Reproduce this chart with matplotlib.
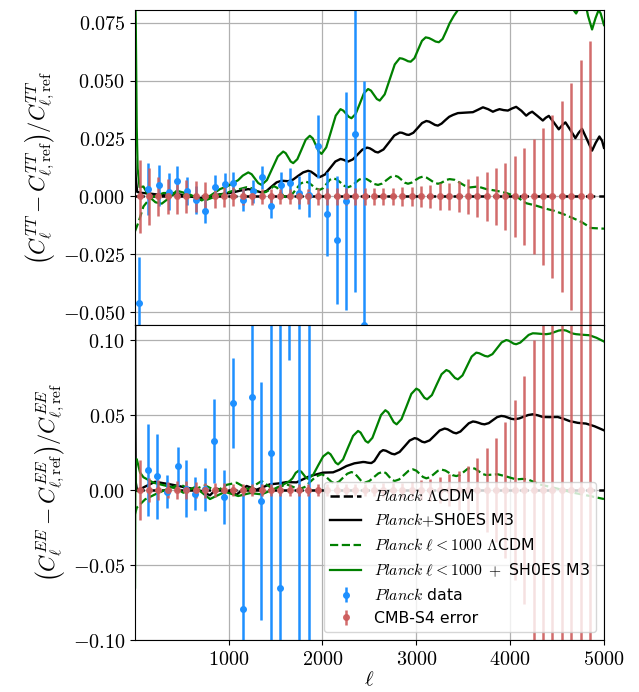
import numpy as np
import matplotlib
matplotlib.use("Agg")
import matplotlib.pyplot as plt
from matplotlib.ticker import FuncFormatter

plt.rcParams['mathtext.fontset'] = 'cm'
plt.rcParams['font.family'] = ['DejaVu Sans']

# ---- TT residual curves ----
tt_m3_ell = [2, 10, 25, 60, 150, 250, 340, 447, 560, 680, 760, 833, 900, 979, 1050, 1120,
             1209, 1280, 1351, 1404, 1458, 1511, 1564, 1634, 1687, 1740, 1794, 1847, 1878,
             1910, 1941, 1972, 2027, 2082, 2137, 2192, 2212, 2233, 2253, 2273, 2323, 2374,
             2424, 2475, 2504, 2534, 2563, 2592, 2650, 2708, 2765, 2823, 2848, 2873, 2897,
             2922, 2968, 3015, 3061, 3107, 3138, 3169, 3199, 3230, 3270, 3310, 3350, 3390,
             3443, 3520, 3603, 3660, 3710, 3765, 3816, 3850, 3887, 3930, 3976, 4020, 4064,
             4120, 4171, 4205, 4235, 4290, 4348, 4380, 4412, 4465, 4518, 4555, 4589, 4642,
             4695, 4730, 4766, 4820, 4873, 4912, 4951, 4980, 5000]
tt_m3 = [0.016, 0.008, 0.002, 0.0016, 0.0013, 0.0008, 0.0004, 0.0011, 0.0003, -0.0007,
         -0.0007, 0.0004, 0.0009, 0.0013, 0.0018, 0.0025, 0.0032, 0.0026, 0.0017, 0.0024,
         0.0043, 0.0061, 0.0068, 0.0066, 0.0073, 0.0089, 0.0104, 0.0111, 0.0107, 0.0098,
         0.0088, 0.0084, 0.0095, 0.0123, 0.0151, 0.0162, 0.0160, 0.0157, 0.0153, 0.0151,
         0.0160, 0.0181, 0.0202, 0.0211, 0.0208, 0.0201, 0.0193, 0.0190, 0.0203, 0.0233,
         0.0263, 0.0276, 0.0275, 0.0271, 0.0267, 0.0266, 0.0275, 0.0296, 0.0317, 0.0326,
         0.0323, 0.0316, 0.0309, 0.0306, 0.0315, 0.0330, 0.0344, 0.0352, 0.0360, 0.0362,
         0.0364, 0.0375, 0.0385, 0.0377, 0.0366, 0.0372, 0.0377, 0.0373, 0.0371, 0.0380,
         0.0387, 0.0370, 0.0349, 0.0360, 0.0366, 0.0348, 0.0328, 0.0340, 0.0348, 0.0320,
         0.0290, 0.0308, 0.0320, 0.0287, 0.0252, 0.0275, 0.0292, 0.0245, 0.0198, 0.0232,
         0.0259, 0.0240, 0.0210]

tt_lowl_m3_ell = [2, 10, 20, 30, 50, 92, 150, 220, 287, 370, 447, 580, 713, 810, 908, 979,
                  1100, 1150, 1209, 1245, 1280, 1315, 1351, 1408, 1466, 1524, 1581, 1608,
                  1635, 1661, 1688, 1732, 1777, 1821, 1865, 1896, 1928, 1959, 1990, 2040,
                  2091, 2141, 2192, 2221, 2250, 2280, 2309, 2353, 2398, 2442, 2486, 2517,
                  2548, 2579, 2610, 2663, 2717, 2770, 2823, 2852, 2882, 2911, 2940, 2980,
                  3020, 3060, 3100, 3135, 3170, 3205, 3240, 3280, 3320, 3355, 3400, 3443,
                  3550, 3700, 3900, 4100, 4300, 4500, 4667, 4703, 4790, 4830, 4873, 4910,
                  4943, 4965, 5000]
tt_lowl_m3 = [0.095, 0.075, 0.030, 0.012, 0.004, 0.0043, 0.0000, -0.0025, -0.0031, -0.0005,
              0.0025, 0.0010, -0.0017, 0.0005, 0.0032, 0.0043, 0.0070, 0.0090, 0.0104,
              0.0096, 0.0077, 0.0058, 0.0050, 0.0071, 0.0122, 0.0173, 0.0194, 0.0187,
              0.0169, 0.0151, 0.0144, 0.0161, 0.0203, 0.0245, 0.0262, 0.0251, 0.0223,
              0.0195, 0.0184, 0.0212, 0.0281, 0.0349, 0.0377, 0.0371, 0.0358, 0.0344,
              0.0338, 0.0356, 0.0401, 0.0446, 0.0464, 0.0457, 0.0439, 0.0421, 0.0414,
              0.0441, 0.0506, 0.0570, 0.0597, 0.0595, 0.0590, 0.0584, 0.0582, 0.0597,
              0.0635, 0.0672, 0.0687, 0.0684, 0.0677, 0.0669, 0.0666, 0.0680, 0.0715,
              0.0748, 0.0780, 0.0805, 0.086, 0.090, 0.094, 0.096, 0.093, 0.088, 0.081,
              0.079, 0.086, 0.078, 0.0721, 0.0770, 0.0805, 0.0790, 0.0740]

tt_lowl_lcdm_ell = [2, 40, 92, 163, 305, 447, 540, 623, 748, 908, 1050, 1191, 1240, 1275,
                    1320, 1360, 1400, 1440, 1480, 1515, 1550, 1585, 1620, 1668, 1716, 1764,
                    1812, 1852, 1892, 1932, 1972, 2007, 2042, 2078, 2113, 2153, 2193, 2233,
                    2273, 2313, 2353, 2392, 2432, 2472, 2512, 2552, 2592, 2636, 2680, 2725,
                    2769, 2805, 2840, 2876, 2911, 2951, 2991, 3031, 3071, 3111, 3150, 3190,
                    3230, 3261, 3292, 3324, 3355, 3408, 3461, 3515, 3568, 3656, 3745, 3850,
                    3958, 4064, 4171, 4280, 4384, 4470, 4561, 4667, 4760, 4862, 5000]
tt_lowl_lcdm = [-0.0150, -0.0110, -0.0043, -0.0007, 0.0015, 0.0015, 0.0005, -0.0007,
                -0.0017, 0.0007, 0.0025, 0.0040, 0.0036, 0.0028, 0.0019, 0.0015, 0.0020,
                0.0030, 0.0045, 0.0038, 0.0020, 0.0002, -0.0005, 0.0005, 0.0030, 0.0055,
                0.0065, 0.0060, 0.0047, 0.0034, 0.0029, 0.0036, 0.0054, 0.0072, 0.0079,
                0.0073, 0.0060, 0.0046, 0.0040, 0.0046, 0.0060, 0.0073, 0.0079, 0.0075,
                0.0065, 0.0054, 0.0050, 0.0056, 0.0070, 0.0084, 0.0090, 0.0085, 0.0073,
                0.0060, 0.0055, 0.0060, 0.0071, 0.0081, 0.0086, 0.0081, 0.0071, 0.0060,
                0.0055, 0.0058, 0.0065, 0.0072, 0.0075, 0.0072, 0.0060, 0.0047, 0.0039,
                0.0043, 0.0032, 0.0025, 0.0015, 0.0000, -0.0029, -0.0040, -0.0053, -0.0062,
                -0.0075, -0.0093, -0.0110, -0.0136, -0.0139]

# ---- EE residual curves ----
ee_m3_ell = [2, 5, 10, 25, 100, 216, 376, 553, 680, 801, 872, 979, 1085, 1191, 1297, 1440,
             1546, 1617, 1723, 1865, 2007, 2113, 2180, 2256, 2340, 2432, 2455, 2477, 2499,
             2521, 2552, 2583, 2614, 2645, 2676, 2707, 2738, 2769, 2822, 2876, 2929, 2982,
             3009, 3036, 3062, 3089, 3142, 3196, 3249, 3302, 3333, 3364, 3395, 3426, 3470,
             3515, 3559, 3603, 3634, 3665, 3696, 3727, 3772, 3816, 3861, 3905, 3940, 3976,
             4011, 4046, 4095, 4144, 4192, 4241, 4295, 4348, 4420, 4507, 4570, 4632, 4720,
             4809, 4900, 5000]
ee_m3 = [0.20, 0.06, 0.005, -0.0007, 0.0020, 0.0055, 0.0038, 0.0016, 0.0000, -0.0035,
         0.0009, -0.0007, -0.0031, 0.0027, 0.0002, 0.0038, 0.0045, 0.0053, 0.0051, 0.0093,
         0.0116, 0.0118, 0.0135, 0.0160, 0.0178, 0.0187, 0.0186, 0.0183, 0.0181, 0.0180,
         0.0193, 0.0223, 0.0253, 0.0266, 0.0262, 0.0252, 0.0242, 0.0238, 0.0254, 0.0292,
         0.0330, 0.0346, 0.0342, 0.0332, 0.0322, 0.0318, 0.0331, 0.0364, 0.0397, 0.0410,
         0.0405, 0.0394, 0.0383, 0.0378, 0.0390, 0.0418, 0.0445, 0.0457, 0.0454, 0.0448,
         0.0441, 0.0438, 0.0446, 0.0466, 0.0486, 0.0494, 0.0491, 0.0483, 0.0475, 0.0472,
         0.0477, 0.0489, 0.0500, 0.0505, 0.0498, 0.0487, 0.0486, 0.0487, 0.0475, 0.0460,
         0.0448, 0.0443, 0.0425, 0.0398]

ee_lowl_m3_ell = [2, 5, 8, 21, 56, 92, 198, 340, 440, 517, 642, 801, 961, 1102, 1230, 1351,
                  1460, 1564, 1650, 1680, 1715, 1750, 1774, 1798, 1823, 1847, 1900, 1953,
                  2007, 2060, 2086, 2113, 2140, 2166, 2219, 2272, 2326, 2379, 2406, 2432,
                  2459, 2486, 2532, 2578, 2624, 2670, 2700, 2730, 2760, 2790, 2842, 2895,
                  2947, 3000, 3029, 3057, 3086, 3115, 3166, 3217, 3269, 3320, 3351, 3381,
                  3412, 3443, 3492, 3541, 3590, 3639, 3670, 3700, 3731, 3762, 3811, 3860,
                  3909, 3958, 3984, 4011, 4037, 4064, 4108, 4152, 4197, 4241, 4277, 4312,
                  4348, 4384, 4428, 4472, 4517, 4561, 4597, 4632, 4668, 4703, 4774, 4845,
                  4920, 5000]
ee_lowl_m3 = [-0.065, -0.010, 0.020, 0.0205, 0.0116, 0.0085, 0.0049, 0.0027, 0.0010,
              -0.0018, 0.0020, -0.0060, -0.0012, -0.0040, -0.0020, -0.0029, 0.0000, 0.0030,
              0.0060, 0.0078, 0.0115, 0.0130, 0.0122, 0.0103, 0.0083, 0.0075, 0.0101,
              0.0163, 0.0224, 0.0250, 0.0238, 0.0211, 0.0183, 0.0171, 0.0204, 0.0283,
              0.0361, 0.0394, 0.0383, 0.0355, 0.0327, 0.0316, 0.0348, 0.0424, 0.0500,
              0.0532, 0.0518, 0.0485, 0.0452, 0.0438, 0.0473, 0.0557, 0.0641, 0.0676,
              0.0666, 0.0641, 0.0615, 0.0605, 0.0633, 0.0703, 0.0772, 0.0800, 0.0791,
              0.0769, 0.0747, 0.0738, 0.0764, 0.0827, 0.0890, 0.0916, 0.0912, 0.0903,
              0.0894, 0.0890, 0.0906, 0.0945, 0.0984, 0.1000, 0.0996, 0.0986, 0.0976,
              0.0972, 0.0983, 0.1008, 0.1034, 0.1045, 0.1044, 0.1042, 0.1040, 0.1039,
              0.1043, 0.1053, 0.1063, 0.1067, 0.1063, 0.1053, 0.1043, 0.1039, 0.1035,
              0.1032, 0.1015, 0.0990]

ee_lowl_lcdm_ell = [2, 21, 110, 216, 340, 482, 606, 748, 872, 980, 1085, 1210, 1351, 1475,
                    1617, 1750, 1810, 1870, 1930, 1990, 2025, 2060, 2096, 2131, 2176, 2220,
                    2265, 2309, 2344, 2380, 2415, 2450, 2499, 2548, 2596, 2645, 2676, 2707,
                    2738, 2769, 2818, 2866, 2915, 2964, 3000, 3036, 3071, 3107, 3148, 3189,
                    3229, 3270, 3309, 3348, 3387, 3426, 3466, 3506, 3546, 3586, 3626, 3666,
                    3705, 3745, 3868, 3960, 4064, 4130, 4188, 4312, 4500, 4667, 4850, 5000]
ee_lowl_lcdm = [-0.016, -0.0117, -0.0062, -0.0029, 0.0005, 0.0038, -0.0002, 0.0031, -0.0007,
                0.0035, 0.0049, 0.0005, 0.0060, 0.0005, 0.0038, 0.0005, 0.0020, 0.0055,
                0.0090, 0.0105, 0.0096, 0.0075, 0.0054, 0.0045, 0.0056, 0.0083, 0.0109,
                0.0120, 0.0110, 0.0085, 0.0059, 0.0049, 0.0060, 0.0086, 0.0111, 0.0122,
                0.0113, 0.0091, 0.0069, 0.0060, 0.0071, 0.0099, 0.0127, 0.0138, 0.0129,
                0.0108, 0.0087, 0.0078, 0.0086, 0.0107, 0.0128, 0.0136, 0.0130, 0.0115,
                0.0099, 0.0093, 0.0101, 0.0121, 0.0141, 0.0149, 0.0142, 0.0125, 0.0107,
                0.0100, 0.0105, 0.0090, 0.0071, 0.0074, 0.0071, 0.0038, 0.0010, -0.0017,
                -0.0040, -0.0060]

# ---- Planck binned data ----
planck_tt_ell = [46, 145, 262, 369, 450, 556, 655, 751, 858, 961, 1049, 1155, 1255, 1351,
                 1450, 1556, 1652, 1751, 1851, 1947, 2050, 2150, 2248, 2347, 2447]
planck_tt = [-0.046, 0.0033, 0.0049, 0.0020, 0.0065, 0.0024, -0.0014, -0.0063, 0.0043,
             0.0053, 0.0057, -0.0014, 0.0022, 0.0083, -0.0043, 0.0050, 0.0057, 0.0017,
             0.0007, 0.0216, -0.0076, -0.0187, -0.0019, 0.0269, -0.0553]
planck_tt_err = [0.020, 0.0113, 0.0088, 0.0080, 0.0068, 0.0060, 0.0060, 0.0052, 0.0050,
                 0.0050, 0.0047, 0.0050, 0.0050, 0.0050, 0.0050, 0.0055, 0.0065, 0.0072,
                 0.0097, 0.0135, 0.018, 0.0277, 0.047, 0.068, 0.105]

planck_ee_ell = [145, 234, 347, 457, 542, 645, 751, 844, 947, 1049, 1149, 1248, 1347, 1447,
                 1546, 1645, 1751, 1851]
planck_ee = [0.0131, 0.0093, -0.0013, 0.0160, 0.0009, -0.0024, 0.0004, 0.0327, -0.0044,
             0.0582, -0.0790, 0.0618, -0.0073, 0.0249, -0.0651, 0.19, 0.16, -0.18]
planck_ee_err = [0.0307, 0.0283, 0.0110, 0.0130, 0.0190, 0.0110, 0.0145, 0.0278, 0.0180,
                 0.0300, 0.0807, 0.0590, 0.0795, 0.150, 0.200, 0.103, 0.30, 0.30]

# ---- CMB-S4 forecast errors ----
s4_ell = list(range(50, 4851, 100))
s4_tt_err = [0.0158, 0.0122, 0.0085, 0.0077, 0.0074, 0.0070, 0.0068, 0.0061, 0.0050, 0.0045,
             0.0040, 0.0036, 0.0035, 0.0034, 0.0034, 0.0034, 0.0034, 0.0034, 0.0034, 0.0035,
             0.0035, 0.0035, 0.0035, 0.0036, 0.0036, 0.0036, 0.0037, 0.0038, 0.0040, 0.0042,
             0.0045, 0.0050, 0.0057, 0.0060, 0.0066, 0.0077, 0.0090, 0.0104, 0.0122, 0.0145,
             0.0176, 0.0210, 0.0250, 0.0296, 0.0350, 0.0413, 0.0489, 0.0589, 0.0672]
s4_ee_err = [0.020, 0.0083, 0.0067, 0.0053, 0.0060, 0.0058, 0.0055, 0.0050, 0.0047, 0.0044,
             0.0042, 0.0040, 0.0040, 0.0040, 0.0040, 0.0040, 0.0040, 0.0040, 0.0040, 0.0040,
             0.0041, 0.0041, 0.0041, 0.0042, 0.0042, 0.0043, 0.0044, 0.0046, 0.0049, 0.0055,
             0.0064, 0.0075, 0.0087, 0.0105, 0.0130, 0.0160, 0.0216, 0.0280, 0.0344, 0.0456,
             0.0600, 0.0760, 0.0998, 0.130, 0.160, 0.200, 0.250, 0.300, 0.360]

blue = '#1E90FF'
red = '#CD5C5C'
tick_fs = 14.5

fig = plt.figure(figsize=(6.39, 6.92), dpi=100)
gs = fig.add_gridspec(2, 1, left=0.2113, right=0.9452, top=0.9855, bottom=0.0751, hspace=0)
ax1 = fig.add_subplot(gs[0])
ax2 = fig.add_subplot(gs[1], sharex=ax1)

panels = [
    (ax1, tt_m3_ell, tt_m3, tt_lowl_lcdm_ell, tt_lowl_lcdm, tt_lowl_m3_ell, tt_lowl_m3,
     planck_tt_ell, planck_tt, planck_tt_err, s4_tt_err),
    (ax2, ee_m3_ell, ee_m3, ee_lowl_lcdm_ell, ee_lowl_lcdm, ee_lowl_m3_ell, ee_lowl_m3,
     planck_ee_ell, planck_ee, planck_ee_err, s4_ee_err),
]

for ax, m3x, m3y, llx, lly, lmx, lmy, px, py, pe, s4e in panels:
    ax.grid(True, color='#b0b0b0', lw=0.9)
    ax.set_axisbelow(True)
    ax.plot([2, 5000], [0, 0], color='black', ls='--', lw=1.8, label=r'$Planck$ $\Lambda$CDM')
    ax.plot(m3x, m3y, color='black', lw=1.7, label=r'$Planck{+}$SH0ES M3')
    ax.plot(llx, lly, color='green', ls='--', lw=1.6, label=r'$Planck\ \ell < 1000\ \Lambda$CDM')
    ax.plot(lmx, lmy, color='green', lw=1.6, label=r'$Planck\ \ell < 1000\ +$ SH0ES M3')
    ax.errorbar(px, py, yerr=pe, fmt='o', color=blue, ms=4, elinewidth=1.8,
                label=r'$Planck$ data')
    ax.errorbar(s4_ell, np.zeros(len(s4_ell)), yerr=s4e, fmt='o', color=red, ms=4,
                elinewidth=1.8, alpha=0.9, label='CMB-S4 error')
    ax.tick_params(labelsize=tick_fs)

ax1.set_xlim(2, 5000)
ax1.set_ylim(-0.0555, 0.0805)
ax2.set_ylim(-0.10, 0.11)
ax1.set_yticks([-0.050, -0.025, 0.0, 0.025, 0.050, 0.075])
ax2.set_yticks([-0.10, -0.05, 0.0, 0.05, 0.10])
ax2.set_xticks([1000, 2000, 3000, 4000, 5000])
ax1.yaxis.set_major_formatter(FuncFormatter(lambda v, p: f'${v:.3f}$'))
ax2.yaxis.set_major_formatter(FuncFormatter(lambda v, p: f'${v:.2f}$'))
ax2.xaxis.set_major_formatter(FuncFormatter(lambda v, p: f'${int(v)}$'))
plt.setp(ax1.get_xticklabels(), visible=False)

ax1.set_ylabel(r'$\left(C_\ell^{TT} - C_{\ell,\mathrm{ref}}^{TT}\right)/C_{\ell,\mathrm{ref}}^{TT}$',
               fontsize=16)
ax2.set_ylabel(r'$\left(C_\ell^{EE} - C_{\ell,\mathrm{ref}}^{EE}\right)/C_{\ell,\mathrm{ref}}^{EE}$',
               fontsize=16)
ax2.set_xlabel(r'$\ell$', fontsize=15, labelpad=0)

ax2.legend(loc='lower right', fontsize=11.3, framealpha=0.8)

fig.savefig('out.png', dpi=100)
